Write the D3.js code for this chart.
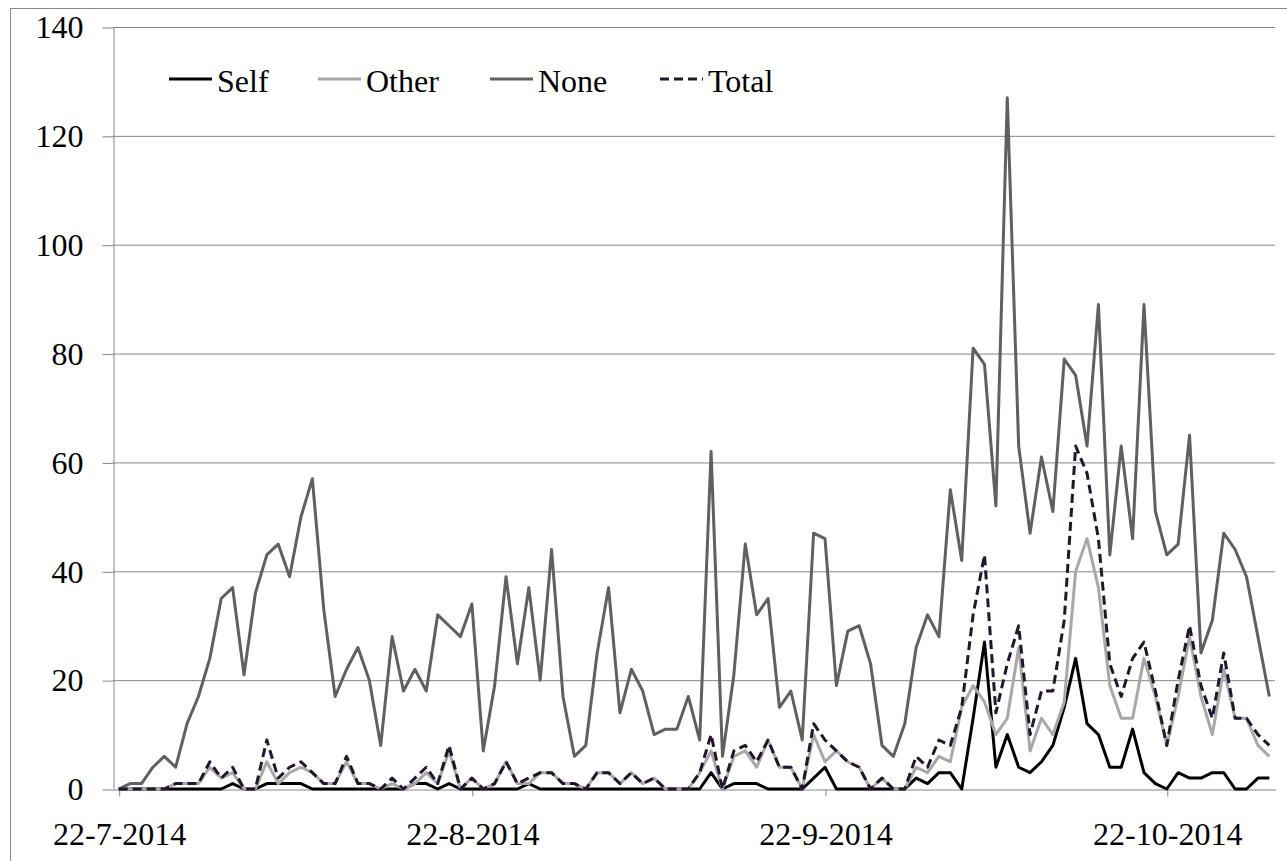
<!DOCTYPE html>
<html>
<head>
<meta charset="utf-8">
<script src="https://cdn.jsdelivr.net/npm/d3@7"></script>
<style>
    body { margin: 0; background: #fff; }
    svg { display: block; font-family: "Liberation Serif", "Times New Roman", serif; }
</style>
</head>
<body>
<div id="chart"></div>
<script>
// Daily counts, 22-7-2014 .. 31-10-2014
const dates = d3.timeDay.range(new Date(2014, 6, 22), new Date(2014, 10, 1));

const self = [
    0, 0, 0, 0, 0, 0, 0, 0, 0, 0,
    1, 0, 0, 1, 1, 1, 1, 0, 0, 0,
    0, 0, 0, 0, 0, 0, 1, 1, 0, 1,
    0, 0, 0, 0, 0, 0, 1, 0, 0, 0,
    0, 0, 0, 0, 0, 0, 0, 0, 0, 0,
    0, 0, 3, 0, 1, 1, 1, 0, 0, 0,
    0, 2, 4, 0, 0, 0, 0, 0, 0, 0,
    2, 1, 3, 3, 0, 13, 27, 4, 10, 4,
    3, 5, 8, 15, 24, 12, 10, 4, 4, 11,
    3, 1, 0, 3, 2, 2, 3, 3, 0, 0,
    2, 2
];

const other = [
    0, 0, 0, 0, 0, 1, 1, 1, 4, 2,
    3, 0, 0, 5, 1, 3, 4, 3, 1, 1,
    5, 1, 1, 0, 1, 0, 1, 3, 1, 7,
    0, 2, 0, 1, 5, 1, 1, 3, 3, 1,
    1, 0, 3, 3, 1, 3, 1, 2, 0, 0,
    0, 3, 7, 0, 6, 7, 4, 9, 4, 4,
    0, 10, 5, 7, 5, 4, 0, 2, 0, 0,
    4, 3, 6, 5, 15, 19, 16, 10, 13, 26,
    7, 13, 10, 16, 40, 46, 37, 19, 13, 13,
    24, 17, 8, 17, 28, 17, 10, 22, 13, 13,
    8, 6
];

const none = [
    0, 1, 1, 4, 6, 4, 12, 17, 24, 35,
    37, 21, 36, 43, 45, 39, 50, 57, 33, 17,
    22, 26, 20, 8, 28, 18, 22, 18, 32, 30,
    28, 34, 7, 19, 39, 23, 37, 20, 44, 17,
    6, 8, 25, 37, 14, 22, 18, 10, 11, 11,
    17, 9, 62, 6, 21, 45, 32, 35, 15, 18,
    9, 47, 46, 19, 29, 30, 23, 8, 6, 12,
    26, 32, 28, 55, 42, 81, 78, 52, 127, 63,
    47, 61, 51, 79, 76, 63, 89, 43, 63, 46,
    89, 51, 43, 45, 65, 25, 31, 47, 44, 39,
    28, 17
];

const total = [
    0, 0, 0, 0, 0, 1, 1, 1, 5, 2,
    4, 0, 0, 9, 2, 4, 5, 3, 1, 1,
    6, 1, 1, 0, 2, 0, 2, 4, 1, 8,
    0, 2, 0, 1, 5, 1, 2, 3, 3, 1,
    1, 0, 3, 3, 1, 3, 1, 2, 0, 0,
    0, 3, 10, 0, 7, 8, 5, 9, 4, 4,
    0, 12, 9, 7, 5, 4, 0, 2, 0, 0,
    6, 4, 9, 8, 15, 32, 43, 14, 23, 30,
    10, 18, 18, 31, 63, 58, 46, 23, 17, 24,
    27, 18, 8, 20, 30, 19, 13, 25, 13, 13,
    10, 8
];

const seriesNames = ["Self", "Other", "None", "Total"];
const xTicks = [new Date(2014, 6, 22), new Date(2014, 7, 22), new Date(2014, 8, 22), new Date(2014, 9, 22)];
const yTicks = [0, 20, 40, 60, 80, 100, 120, 140];

const width = 1287;
const height = 861;
const margin = { top: 27, right: 12, bottom: 72, left: 113 };
const fontSize = 32;

const svg = d3.select("#chart")
    .append("svg")
    .attr("width", width)
    .attr("height", height);

// Chart area frame (cut off at right and bottom)
svg.append("rect")
    .attr("x", 10.5)
    .attr("y", 8.5)
    .attr("width", 1400)
    .attr("height", 1000)
    .attr("fill", "none")
    .attr("stroke", "#8a8a8a")
    .attr("stroke-width", 1);

// Date axis: each day is a bin, points sit in the middle of it
const xScale = d3.scaleTime()
    .domain([dates[0], d3.timeDay.offset(dates[dates.length - 1], 1)])
    .range([margin.left, width - margin.right]);
const mid = d => xScale(d3.timeHour.offset(d, 12));

const yScale = d3.scaleLinear()
    .domain([0, 140])
    .range([height - margin.bottom, margin.top]);

const x0 = margin.left;
const x1 = width - margin.right;

// Horizontal gridlines
svg.append("g")
    .selectAll("line")
    .data(yTicks.filter(d => d > 0))
    .enter()
    .append("line")
    .attr("x1", x0)
    .attr("x2", x1)
    .attr("y1", d => yScale(d) + 0.5)
    .attr("y2", d => yScale(d) + 0.5)
    .attr("stroke", "#868686")
    .attr("stroke-width", 1);

// Y axis
const yAxis = svg.append("g")
    .attr("transform", `translate(${x0 + 0.5}, 0.5)`)
    .call(d3.axisLeft(yScale).tickValues(yTicks).tickSize(11).tickSizeOuter(0).tickPadding(19));
yAxis.selectAll("line, .domain").attr("stroke", "#868686");
yAxis.selectAll("text")
    .attr("font-size", fontSize)
    .attr("font-family", "Liberation Serif, serif")
    .attr("fill", "#000");

// X axis
const xAxis = svg.append("g")
    .attr("transform", `translate(0.5, ${yScale(0) + 0.5})`)
    .call(d3.axisBottom(xScale)
        .tickValues(xTicks.map(d => d3.timeHour.offset(d, 12)))
        .tickSize(7)
        .tickSizeOuter(0)
        .tickPadding(26)
        .tickFormat(d3.timeFormat("%-d-%-m-%Y")));
xAxis.selectAll("line, .domain").attr("stroke", "#868686");
xAxis.selectAll("text")
    .attr("font-size", fontSize)
    .attr("font-family", "Liberation Serif, serif")
    .attr("fill", "#000");

// Series lines
const styles = {
    Self: { data: self, color: "#000000", dash: null },
    Other: { data: other, color: "#a8a8a8", dash: null },
    None: { data: none, color: "#5e625f", dash: null },
    Total: { data: total, color: "#24142e", dash: "9,5" }
};

const line = d3.line()
    .x((d, i) => mid(dates[i]))
    .y(d => yScale(d));

seriesNames.forEach(name => {
    const s = styles[name];
    svg.append("path")
        .datum(s.data)
        .attr("d", line)
        .attr("fill", "none")
        .attr("stroke", s.color)
        .attr("stroke-width", 3)
        .attr("stroke-linejoin", "round")
        .attr("stroke-dasharray", s.dash);
});

// Legend
const legendX = [169, 318, 490, 660];
const legend = svg.append("g");
seriesNames.forEach((name, i) => {
    const s = styles[name];
    legend.append("line")
        .attr("x1", legendX[i])
        .attr("x2", legendX[i] + 43)
        .attr("y1", 79)
        .attr("y2", 79)
        .attr("stroke", s.color)
        .attr("stroke-width", 3)
        .attr("stroke-dasharray", s.dash);
    legend.append("text")
        .attr("x", legendX[i] + 48)
        .attr("y", 92)
        .attr("font-size", fontSize)
        .attr("fill", "#000")
        .text(name);
});
</script>
</body>
</html>
